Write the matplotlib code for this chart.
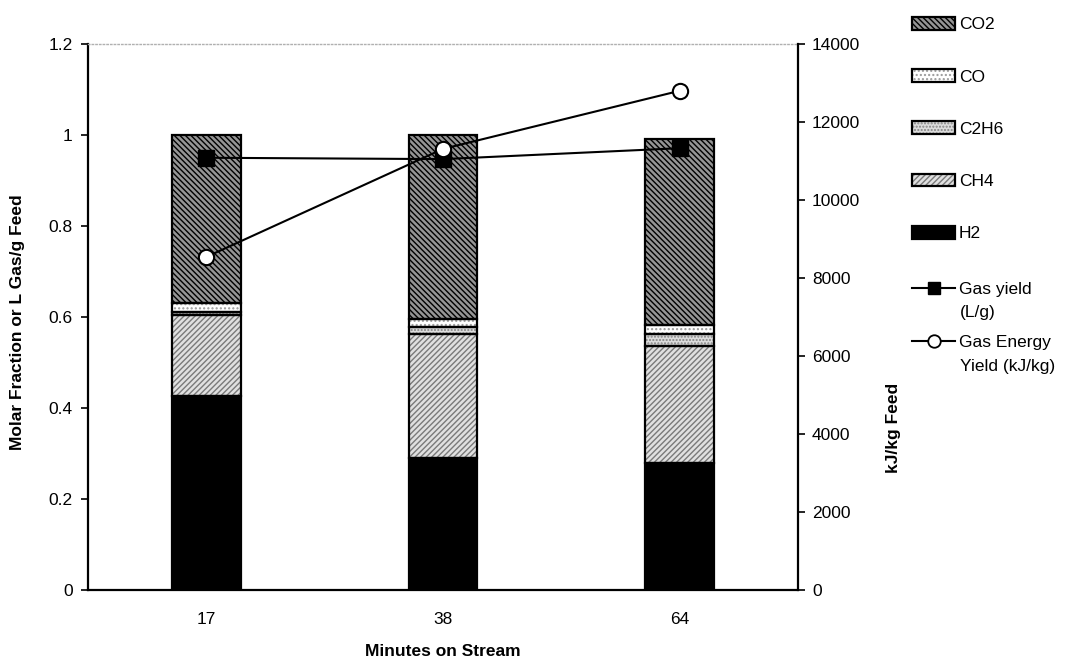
import matplotlib
matplotlib.use('Agg')
import matplotlib.pyplot as plt
import numpy as np
from matplotlib.lines import Line2D
from matplotlib.legend_handler import HandlerTuple

plt.rcParams['font.family'] = ['Liberation Sans', 'DejaVu Sans']
plt.rcParams['hatch.linewidth'] = 1.0

# ---- data ----
minutes = ['17', '38', '64']
h2 = [0.426, 0.290, 0.280]
ch4 = [0.178, 0.273, 0.256]
c2h6 = [0.008, 0.015, 0.027]
co = [0.018, 0.018, 0.019]
co2 = [0.370, 0.404, 0.410]
gas_yield = [0.950, 0.947, 0.971]
energy_yield = [8540, 11310, 12800]

yticks_left = [0, 0.2, 0.4, 0.6, 0.8, 1.0, 1.2]
yticklabels_left = ['0', '0.2', '0.4', '0.6', '0.8', '1', '1.2']
yticks_right = [0, 2000, 4000, 6000, 8000, 10000, 12000, 14000]

FS = 12.5
W, H = 1070, 668
fig = plt.figure(figsize=(W / 100, H / 100), dpi=100)
ax = fig.add_axes([88 / W, 1 - 590 / H, (798 - 88) / W, (590 - 44) / H])

x = np.arange(len(minutes))
w = 0.29

components = [
    ('H2', h2, 'black', None, 'black'),
    ('CH4', ch4, '#e0e0e0', '//////', '#7a7a7a'),
    ('C2H6', c2h6, '#dcdcdc', '.....', '#858585'),
    ('CO', co, 'white', '....', '#9a9a9a'),
    ('CO2', co2, '#959595', '\\\\\\\\\\\\', 'black'),
]

bottom = np.zeros(len(x))
handles = {}
for name, vals, face, hatch, hcol in components:
    vals = np.array(vals)
    b1 = ax.bar(x, vals, w, bottom=bottom, color=face, edgecolor=hcol,
                hatch=hatch, linewidth=0, zorder=2)
    b2 = ax.bar(x, vals, w, bottom=bottom, fill=False, edgecolor='black',
                linewidth=1.6, zorder=2.1)
    handles[name] = (b1[0], b2[0])
    bottom += vals

ax.plot(x, gas_yield, color='black', lw=1.5, marker='s', ms=12,
        mfc='black', mec='black', zorder=4)

ax.set_xlim(-0.5, 2.5)
ax.set_ylim(0, 1.2)
ax.set_yticks(yticks_left, yticklabels_left)
ax.set_xticks(x, minutes)
ax.tick_params(axis='y', direction='out', length=5, width=1.2, labelsize=FS, pad=6)
ax.tick_params(axis='x', length=0, labelsize=FS, pad=16)
for s in ['left', 'bottom']:
    ax.spines[s].set_linewidth(1.6)
ax.spines['right'].set_visible(False)
ax.spines['top'].set(color='#b0b0b0', linestyle=':', linewidth=1.0)

ax.set_xlabel('Minutes on Stream', fontsize=FS, fontweight='bold', labelpad=12)
ax.set_ylabel('Molar Fraction or L Gas/g Feed', fontsize=FS, fontweight='bold')
ax.yaxis.label.set(va='center', ha='center', rotation_mode='anchor')
ax.yaxis.set_label_coords((18 - 88) / 710, (590 - 322) / 546)

ax2 = ax.twinx()
ax2.plot(x, energy_yield, color='black', lw=1.5, marker='o', ms=11,
         mfc='white', mec='black', mew=1.5, zorder=5)
ax2.set_ylim(0, 14000)
ax2.set_yticks(yticks_right, [str(v) for v in yticks_right])
ax2.tick_params(axis='y', direction='out', length=5, width=1.2, labelsize=FS, pad=5)
for s in ['left', 'bottom', 'top']:
    ax2.spines[s].set_visible(False)
ax2.spines['right'].set_linewidth(1.6)
ax2.set_ylabel('kJ/kg Feed', fontsize=FS, fontweight='bold', rotation=90)
ax2.yaxis.label.set(va='center', ha='center', rotation_mode='anchor')
ax2.yaxis.set_label_coords((893 - 88) / 710, (590 - 428) / 546)

# legend for bars
order = ['CO2', 'CO', 'C2H6', 'CH4', 'H2']
leg1 = fig.legend([handles[n] for n in order], order,
                  handler_map={tuple: HandlerTuple(ndivide=1)},
                  loc='upper left', bbox_to_anchor=(912 / W, 1 - 17 / H),
                  frameon=False, fontsize=FS, handlelength=2.5,
                  handleheight=0.75, handletextpad=0.2, labelspacing=2.12,
                  borderpad=0, borderaxespad=0)

line_handles = [
    Line2D([], [], color='black', lw=1.5, marker='s', ms=9, mfc='black', mec='black'),
    Line2D([], [], color='black', lw=1.5, marker='o', ms=9, mfc='white', mec='black', mew=1.3),
]
leg2 = fig.legend(line_handles, ['Gas yield', 'Gas Energy'],
                  loc='upper left', bbox_to_anchor=(912 / W, 1 - 282 / H),
                  frameon=False, fontsize=FS, handlelength=2.5,
                  handletextpad=0.2, labelspacing=2.18,
                  borderpad=0, borderaxespad=0)
fig.text(960 / W, 1 - 313 / H, '(L/g)', fontsize=FS, va='center', ha='left')
fig.text(960 / W, 1 - 366 / H, 'Yield (kJ/kg)', fontsize=FS, va='center', ha='left')

fig.savefig('out.png', dpi=100)
